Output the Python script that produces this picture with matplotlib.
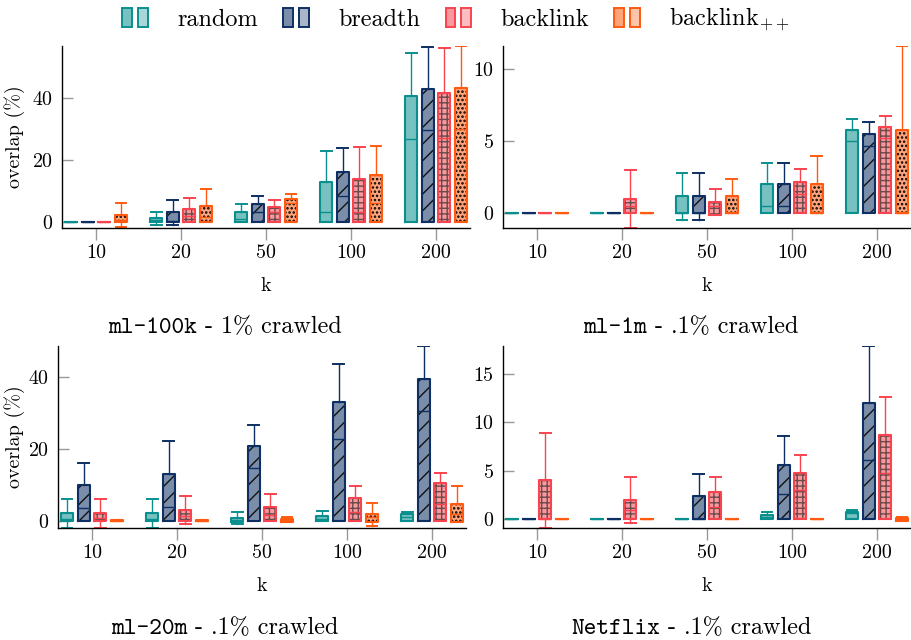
import matplotlib
matplotlib.use("Agg")
import matplotlib.pyplot as plt
import numpy as np
from matplotlib.colors import to_rgba
from matplotlib.patches import Patch
from matplotlib.legend_handler import HandlerTuple

plt.rcParams['font.family'] = 'cmr10'
plt.rcParams['mathtext.fontset'] = 'cm'
plt.rcParams['axes.formatter.use_mathtext'] = True

k_labels = ['10', '20', '50', '100', '200']
methods = ['random', 'breadth', 'backlink', r'backlink$_{++}$']
edge_colors = ['#0a8f8f', '#0d2f63', '#f9434f', '#ff5a0f']
hatch_colors = ['none', '#111111', '#6a4a4a', '#000000']
hatches = [None, '//', '+++', '....']
hatch_widths = [1.0, 1.0, 1.0, 1.2]

# rows = methods (random, breadth, backlink, backlink++), cols = k
ml100k_q1 = [[0, 0, 0, 0, 0], [0, 0, 0, 0, 0], [0, 0, 0, 0, 0], [0, 0, 0, 0, 0]]
ml100k_med = [[0, 0.5, 0.9, 3.0, 26.7], [0, 0.3, 3.1, 8.4, 29.7], [0, 1.7, 3.1, 3.3, 27.0], [0.5, 1.5, 6.0, 6.0, 30.0]]
ml100k_q3 = [[0, 1.2, 3.3, 13.0, 40.7], [0, 3.1, 5.7, 16.0, 43.1], [0, 4.1, 4.9, 13.9, 41.8], [2.3, 5.2, 7.3, 15.3, 43.4]]
ml100k_lo = [[0, -1.0, 0, 0, 0], [0, -1.0, 0, 0, 0], [0, 0, 0, 0, 0], [-1.8, 0, 0, 0, 0]]
ml100k_hi = [[0, 3.0, 5.7, 23.1, 54.8], [0, 7.0, 8.3, 23.8, 56.7], [0, 7.7, 7.0, 24.1, 56.3], [6.0, 10.5, 8.9, 24.4, 56.9]]

ml1m_q1 = [[0, 0, 0, 0, 0], [0, 0, 0, 0, 0], [0, 0, -0.1, 0, 0], [0, 0, 0, 0, 0]]
ml1m_med = [[0, 0, 0, 0.49, 5.0], [0, 0, 0, 0.49, 4.65], [0, 0.5, 0.5, 1.32, 5.2], [0, 0, 0, 0, 0]]
ml1m_q3 = [[0, 0, 1.18, 2.0, 5.79], [0, 0, 1.18, 2.0, 5.49], [0, 0.97, 0.76, 2.18, 6.0], [0, 0, 1.18, 2.0, 5.79]]
ml1m_lo = [[0, 0, -0.44, 0, 0], [0, 0, -0.44, 0, 0], [0, -1.0, -0.1, 0, 0], [0, 0, 0, 0, 0]]
ml1m_hi = [[0, 0, 2.76, 3.47, 6.57], [0, 0, 2.76, 3.47, 6.3], [0, 2.97, 1.67, 3.08, 6.78], [0, 0, 2.4, 3.98, 11.6]]

ml20m_q1 = [[0, 0, -0.2, 0, 0], [0, 0, 0, 0, 0], [0, 0, 0, 0, 0], [0, 0, -0.3, -0.2, -0.2]]
ml20m_med = [[0.5, 0.5, 0.3, 0.6, 1.1], [3.7, 3.8, 14.6, 22.6, 30.4], [0.8, 1.4, 1.7, 2.5, 4.6], [0, 0, 0.2, 1.0, 2.0]]
ml20m_q3 = [[2.1, 2.1, 0.8, 1.5, 2.0], [9.9, 13.0, 20.7, 33.0, 39.4], [2.1, 3.0, 4.0, 6.5, 10.4], [0.3, 0.3, 0.55, 1.9, 4.8]]
ml20m_lo = [[-1.9, -1.9, -0.9, 0, 0], [0, 0, 0, 0, 0], [-1.9, -0.9, 0, 0, 0], [0, 0, -0.3, -1.3, -0.2]]
ml20m_hi = [[6.0, 6.0, 2.4, 2.7, 2.4], [16.2, 22.2, 26.7, 43.4, 48.4], [6.0, 7.0, 7.4, 9.6, 13.3], [0.3, 0.3, 1.2, 4.9, 9.8]]

netflix_q1 = [[0, 0, 0, 0, 0], [0, 0, 0, 0, 0], [0, 0, 0, 0, 0], [0, 0, 0, 0, -0.14]]
netflix_med = [[0, 0, 0, 0.2, 0.6], [0, 0, 0, 2.58, 6.1], [0, 1.0, 1.3, 3.0, 4.75], [0, 0, 0, 0, 0]]
netflix_q3 = [[0, 0, 0, 0.45, 0.79], [0, 0, 2.44, 5.57, 12.05], [4.03, 2.0, 2.79, 4.82, 8.7], [0, 0, 0, 0, 0.17]]
netflix_lo = [[0, 0, 0, 0, 0], [0, 0, 0, 0, 0], [-0.93, -0.4, 0, 0, 0], [0, 0, 0, 0, -0.14]]
netflix_hi = [[0, 0, 0, 0.79, 1.0], [0, 0, 4.68, 8.57, 17.9], [8.9, 4.4, 4.4, 6.67, 12.67], [0, 0, 0, 0, 0.27]]

box_w = 0.14
offsets = np.array([-1.5, -0.5, 0.5, 1.5]) * 0.195


def draw_panel(ax, q1, med, q3, lo, hi, ylim, yticks):
    x = np.arange(len(k_labels))
    for m in range(len(methods)):
        stats = []
        for i in range(len(k_labels)):
            stats.append(dict(whislo=lo[m][i], q1=q1[m][i], med=med[m][i],
                              q3=q3[m][i], whishi=hi[m][i]))
        pos = x + offsets[m]
        # filled + hatched box
        with plt.rc_context({'hatch.linewidth': hatch_widths[m]}):
            ax.bxp(stats, positions=pos, widths=box_w, patch_artist=True,
                   showfliers=False, showcaps=False, manage_ticks=False,
                   boxprops=dict(facecolor=to_rgba(edge_colors[m], 0.55),
                                 edgecolor=hatch_colors[m], linewidth=0,
                                 hatch=hatches[m]),
                   whiskerprops=dict(linestyle='none'),
                   medianprops=dict(linestyle='none'))
        # outline, whiskers, caps, median
        ax.bxp(stats, positions=pos, widths=box_w, showfliers=False,
               manage_ticks=False, capwidths=box_w * 0.9,
               boxprops=dict(color=edge_colors[m], linewidth=1.5),
               whiskerprops=dict(color=edge_colors[m], linewidth=1.0),
               capprops=dict(color=edge_colors[m], linewidth=1.4),
               medianprops=dict(color=edge_colors[m], linewidth=1.0))
    ax.set_xlim(-0.4, 4.4)
    ax.set_ylim(*ylim)
    ax.set_xticks(x)
    ax.set_xticklabels(k_labels)
    ax.set_yticks(yticks)
    ax.spines['top'].set_visible(False)
    ax.spines['right'].set_visible(False)
    for s in ['left', 'bottom']:
        ax.spines[s].set_linewidth(1.0)
    ax.tick_params(axis='y', direction='in', length=8, width=1, color='#999999',
                   pad=6.5, labelsize=14.4)
    ax.tick_params(axis='x', direction='out', length=8.5, width=1, color='#999999',
                   pad=3, labelsize=14.4)
    ax.set_xlabel('k', fontsize=14.4)
    ax.xaxis.set_label_coords(0.5, -0.27)


fig = plt.figure(figsize=(9.12, 6.4), dpi=100)
ax1 = fig.add_axes([0.068, 0.6442, 0.4474, 0.2839])
ax2 = fig.add_axes([0.5515, 0.6442, 0.4474, 0.2839])
ax3 = fig.add_axes([0.0636, 0.1755, 0.4474, 0.2839])
ax4 = fig.add_axes([0.5515, 0.1755, 0.4474, 0.2839])

draw_panel(ax1, ml100k_q1, ml100k_med, ml100k_q3, ml100k_lo, ml100k_hi, (-1.95, 57.0), [0, 20, 40])
draw_panel(ax2, ml1m_q1, ml1m_med, ml1m_q3, ml1m_lo, ml1m_hi, (-1.0, 11.6), [0, 5, 10])
draw_panel(ax3, ml20m_q1, ml20m_med, ml20m_q3, ml20m_lo, ml20m_hi, (-1.85, 48.5), [0, 20, 40])
draw_panel(ax4, netflix_q1, netflix_med, netflix_q3, netflix_lo, netflix_hi, (-0.87, 17.9), [0, 5, 10, 15])

ax1.set_ylabel('overlap (%)', fontsize=14.4)
ax1.yaxis.set_label_coords(-0.091, 0.5)
ax3.set_ylabel('overlap (%)', fontsize=14.4)
ax3.yaxis.set_label_coords(-0.081, 0.5)

# legend
handles = []
for m in range(len(methods)):
    p1 = Patch(facecolor=to_rgba(edge_colors[m], 0.55), edgecolor=edge_colors[m], linewidth=1.4)
    p2 = Patch(facecolor=to_rgba(edge_colors[m], 0.35), edgecolor=edge_colors[m], linewidth=1.4)
    handles.append((p1, p2))
fig.legend(handles, methods, loc='upper center', bbox_to_anchor=(0.5, 1.025), ncol=4,
           frameon=False, fontsize=17.5, handlelength=1.05, handleheight=0.8,
           handletextpad=1.2, columnspacing=1.05,
           handler_map={tuple: HandlerTuple(ndivide=None, pad=0.25)})

# subplot captions: dataset name in typewriter font, rest in roman
captions = [('ml-100k', ' - 1% crawled', 225, 333),
            ('ml-1m', ' - .1% crawled', 691, 333),
            ('ml-20m', ' - .1% crawled', 225, 634),
            ('Netflix', ' - .1% crawled', 691, 634)]
fig.canvas.draw()
renderer = fig.canvas.get_renderer()
for name, rest, cx, by in captions:
    t1 = fig.text(0, 1 - by / 640, name, family='cmtt10', fontsize=17.4, va='baseline')
    t2 = fig.text(0, 1 - by / 640, rest, family='cmr10', fontsize=17.4, va='baseline')
    w1 = t1.get_window_extent(renderer).width
    w2 = t2.get_window_extent(renderer).width
    x0 = cx - (w1 + w2) / 2
    t1.set_x(x0 / 912)
    t2.set_x((x0 + w1) / 912)

fig.savefig('out.png', dpi=100)
